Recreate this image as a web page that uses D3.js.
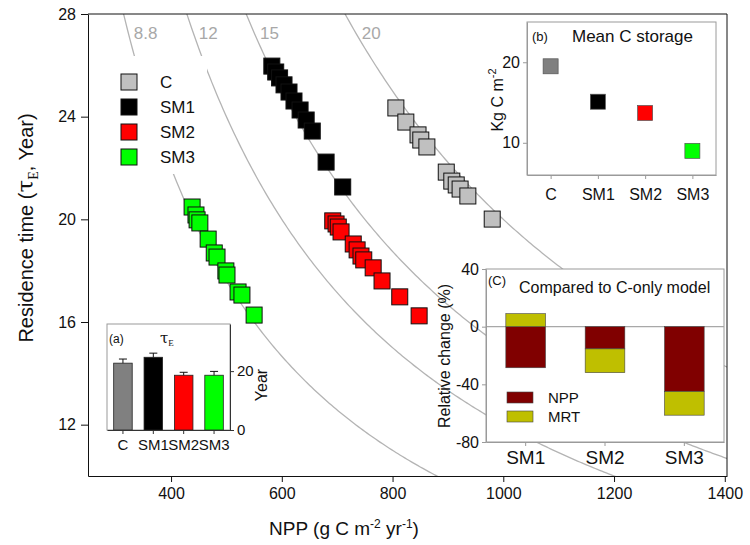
<!doctype html>
<html>
<head>
<script src="https://cdnjs.cloudflare.com/ajax/libs/d3/7.8.5/d3.min.js"></script>
<style>
body { margin: 0; background: #fff; }
text { font-family: Arial, "Liberation Sans", sans-serif; fill: #111; }
</style>
</head>
<body>
<svg id="chart" width="750" height="545"></svg>
<script>
// ---- data ----
var groups = ["C", "SM1", "SM2", "SM3"];
var nppC   = [806, 824, 846, 851, 862, 897, 907, 915, 922, 936, 980];
var tauC   = [24.34, 23.79, 23.29, 23.09, 22.82, 21.84, 21.49, 21.34, 21.18, 20.91, 20.01];
var nppSM1 = [582, 589, 596, 604, 613, 622, 633, 644, 655, 680, 710];
var tauSM1 = [25.97, 25.74, 25.51, 25.24, 24.96, 24.61, 24.26, 23.87, 23.44, 22.23, 21.26];
var nppSM2 = [692, 698, 702, 707, 729, 736, 743, 748, 765, 781, 813, 848];
var tauSM2 = [19.94, 19.82, 19.70, 19.51, 19.04, 18.81, 18.57, 18.42, 18.11, 17.60, 16.98, 16.24];
var nppSM3 = [438, 445, 447, 452, 467, 478, 483, 499, 501, 521, 528, 550];
var tauSM3 = [20.48, 20.17, 19.98, 19.86, 19.23, 18.69, 18.53, 17.99, 17.83, 17.17, 17.05, 16.27];

var isoLevels = [8.8, 12, 15, 20];          // kg C m-2
var isoLabels = ["8.8", "12", "15", "20"];
var xTicks = [400, 600, 800, 1000, 1200, 1400];
var yTicks = [12, 16, 20, 24, 28];

// inset (a) residence time, (b) mean C storage, (c) relative change
var tauMean = [22.7, 24.7, 18.6, 18.6];
var tauErr  = [1.4, 1.4, 1.0, 1.3];
var aTicks  = [0, 20];
var storage = [19.5, 15.1, 13.7, 9.0];
var bTicks  = [10, 20];
var models  = ["SM1", "SM2", "SM3"];
var relNPP  = [-28.5, -15.4, -45.0];
var relMRT  = [9.0, -16.5, -16.4];
var cTicks  = [-80, -40, 0, 40];

var colors = {C: "#c0c0c0", SM1: "#000000", SM2: "#ff0000", SM3: "#00ff00"};
var colorsInset = {C: "#808080", SM1: "#000000", SM2: "#ff0000", SM3: "#00ff00"};
var plain = d => String(d);

var svg = d3.select("#chart");

// ---- main panel ----
var x = d3.scaleLinear().domain([250, 1404]).range([88, 727]);
var y = d3.scaleLinear().domain([10, 28]).range([476, 14]);

svg.append("clipPath").attr("id", "plotclip")
  .append("rect").attr("x", 88).attr("y", 14).attr("width", 639).attr("height", 462);

var isoLine = d3.line().x(d => x(d[0])).y(d => y(d[1]));
isoLevels.forEach(function (lv, i) {
  var pts = d3.range(250, 1410, 4).map(n => [n, lv * 1000 / n]).filter(p => p[1] > 9 && p[1] < 29);
  svg.append("path")
    .attr("d", isoLine(pts))
    .attr("clip-path", "url(#plotclip)")
    .attr("fill", "none").attr("stroke", "#b4b4b4").attr("stroke-width", 1.3);
  svg.append("text")
    .attr("x", x(lv * 1000 / 27.2) + 5).attr("y", 39)
    .style("font-size", "17px").style("fill", "#a8a8a8")
    .text(isoLabels[i]);
});

var series = [
  {key: "C", npp: nppC, tau: tauC},
  {key: "SM1", npp: nppSM1, tau: tauSM1},
  {key: "SM2", npp: nppSM2, tau: tauSM2},
  {key: "SM3", npp: nppSM3, tau: tauSM3}
];
var sq = 16;
series.forEach(function (s) {
  svg.append("g").selectAll("rect")
    .data(s.npp.map((n, i) => [n, s.tau[i]]))
    .enter().append("rect")
    .attr("x", d => x(d[0]) - sq / 2).attr("y", d => y(d[1]) - sq / 2)
    .attr("width", sq).attr("height", sq)
    .attr("fill", colors[s.key]).attr("stroke", "#111").attr("stroke-width", 1);
});

var xAxis = svg.append("g").attr("transform", "translate(0,476)")
  .call(d3.axisBottom(x).tickValues(xTicks).tickFormat(plain).tickSize(6).tickSizeOuter(0).tickPadding(6));
var yAxis = svg.append("g").attr("transform", "translate(88,0)")
  .call(d3.axisLeft(y).tickValues(yTicks).tickFormat(plain).tickSize(7).tickSizeOuter(0).tickPadding(5));
[xAxis, yAxis].forEach(function (g) {
  g.selectAll("text").style("font-size", "16px").style("font-family", "Arial, 'Liberation Sans', sans-serif");
  g.selectAll("line,path").attr("stroke", "#111");
});
svg.append("path").attr("d", "M88,14H727V476").attr("fill", "none").attr("stroke", "#111");

// axis titles
var xt = svg.append("text").attr("x", 344).attr("y", 535).attr("text-anchor", "middle").style("font-size", "19px");
xt.append("tspan").text("NPP (g C m");
xt.append("tspan").attr("dy", -7).style("font-size", "12px").text("-2");
xt.append("tspan").attr("dy", 7).text(" yr");
xt.append("tspan").attr("dy", -7).style("font-size", "12px").text("-1");
xt.append("tspan").attr("dy", 7).text(")");

var yt = svg.append("text").attr("transform", "translate(33,228) rotate(-90)").attr("text-anchor", "middle").style("font-size", "20px");
yt.append("tspan").text("Residence time (");
yt.append("tspan").style("font-family", "'DejaVu Serif', serif").style("font-size", "23px").text("τ");
yt.append("tspan").attr("dy", 5).style("font-family", "'Liberation Serif', serif").style("font-size", "14px").text("E");
yt.append("tspan").attr("dy", -5).text(", Year)");

// legend
svg.append("rect").attr("x", 112).attr("y", 56).attr("width", 95).attr("height", 118).attr("fill", "#fff");
var leg = svg.append("g").selectAll("g").data(groups).enter().append("g")
  .attr("transform", (d, i) => "translate(121," + (74 + i * 25) + ")");
leg.append("rect").attr("width", 16).attr("height", 16).attr("fill", d => colors[d]).attr("stroke", "#111");
leg.append("text").attr("x", 39).attr("y", 14).style("font-size", "17px").text(d => d);

// ---- inset (a) ----
var xa = d3.scaleBand().domain(groups).range([107, 230]).paddingInner(0.39).paddingOuter(0.22);
var ya = d3.scaleLinear().domain([0, 36]).range([430, 324]);
svg.append("rect").attr("x", 107).attr("y", 324).attr("width", 123).attr("height", 106)
  .attr("fill", "#fff").attr("stroke", "#9a9a9a");
svg.append("g").selectAll("rect").data(groups).enter().append("rect")
  .attr("x", d => xa(d)).attr("width", xa.bandwidth())
  .attr("y", (d, i) => ya(tauMean[i])).attr("height", (d, i) => ya(0) - ya(tauMean[i]))
  .attr("fill", d => colorsInset[d]).attr("stroke", "#222").attr("stroke-width", 0.8);
var eb = svg.append("g").selectAll("g").data(groups).enter().append("g");
eb.append("line")
  .attr("x1", d => xa(d) + xa.bandwidth() / 2).attr("x2", d => xa(d) + xa.bandwidth() / 2)
  .attr("y1", (d, i) => ya(tauMean[i])).attr("y2", (d, i) => ya(tauMean[i] + tauErr[i]))
  .attr("stroke", "#111");
eb.append("line")
  .attr("x1", d => xa(d) + xa.bandwidth() / 2 - 4).attr("x2", d => xa(d) + xa.bandwidth() / 2 + 4)
  .attr("y1", (d, i) => ya(tauMean[i] + tauErr[i])).attr("y2", (d, i) => ya(tauMean[i] + tauErr[i]))
  .attr("stroke", "#111");
var aAxR = svg.append("g").attr("transform", "translate(230,0)")
  .call(d3.axisRight(ya).tickValues(aTicks).tickSize(4).tickSizeOuter(0));
var aAxB = svg.append("g").attr("transform", "translate(0,430)")
  .call(d3.axisBottom(xa).tickSize(4).tickSizeOuter(0).tickPadding(5));
[aAxR, aAxB].forEach(function (g) {
  g.selectAll("text").style("font-size", "15px").style("font-family", "Arial, 'Liberation Sans', sans-serif");
  g.selectAll("line,path").attr("stroke", "#333");
});
svg.append("text").attr("x", 109).attr("y", 343).style("font-size", "12px").text("(a)");
var at = svg.append("text").attr("x", 160).attr("y", 343).style("font-size", "15px");
at.append("tspan").style("font-family", "'DejaVu Serif', serif").text("τ");
at.append("tspan").attr("dy", 3).style("font-family", "'Liberation Serif', serif").style("font-size", "9px").text("E");
svg.append("text").attr("transform", "translate(267,385) rotate(-90)").attr("text-anchor", "middle")
  .style("font-size", "16px").text("Year");

// ---- inset (b) ----
var xb = d3.scalePoint().domain(groups).range([527, 716]).padding(0.5);
var yb = d3.scaleLinear().domain([6, 25]).range([175, 22]);
svg.append("rect").attr("x", 527).attr("y", 22).attr("width", 189).attr("height", 153)
  .attr("fill", "#fff").attr("stroke", "#9a9a9a");
svg.append("g").selectAll("rect").data(groups).enter().append("rect")
  .attr("x", d => xb(d) - 7.5).attr("y", (d, i) => yb(storage[i]) - 7.5)
  .attr("width", 15).attr("height", 15)
  .attr("fill", d => colorsInset[d]).attr("stroke", "#555").attr("stroke-width", 0.7);
var bAxL = svg.append("g").attr("transform", "translate(527,0)")
  .call(d3.axisLeft(yb).tickValues(bTicks).tickSize(4).tickSizeOuter(0));
var bAxB = svg.append("g").attr("transform", "translate(0,175)")
  .call(d3.axisBottom(xb).tickSize(4).tickSizeOuter(0).tickPadding(10));
[bAxL, bAxB].forEach(function (g) {
  g.selectAll("text").style("font-size", "16px").style("font-family", "Arial, 'Liberation Sans', sans-serif");
  g.selectAll("line,path").attr("stroke", "#9a9a9a");
});
svg.append("text").attr("x", 532).attr("y", 41).style("font-size", "13px").text("(b)");
svg.append("text").attr("x", 572).attr("y", 42).style("font-size", "17px").text("Mean C storage");
var bt = svg.append("text").attr("transform", "translate(503,100) rotate(-90)").attr("text-anchor", "middle")
  .style("font-size", "16px");
bt.append("tspan").text("Kg C m");
bt.append("tspan").attr("dy", -7).style("font-size", "11px").text("-2");

// ---- inset (c) ----
var xc = d3.scaleBand().domain(models).range([486, 724]).paddingInner(0.5).paddingOuter(0.25);
var yc = d3.scaleLinear().domain([-80, 40]).range([442, 269]);
svg.append("rect").attr("x", 486).attr("y", 269).attr("width", 238).attr("height", 173)
  .attr("fill", "#fff").attr("stroke", "#9a9a9a");
svg.append("line").attr("x1", 486).attr("x2", 724).attr("y1", yc(0)).attr("y2", yc(0))
  .attr("stroke", "#a8a8a8").attr("stroke-width", 1.2);

var table = models.map((m, i) => ({model: m, NPP: relNPP[i], MRT: relMRT[i]}));
var stacked = d3.stack().keys(["NPP", "MRT"]).offset(d3.stackOffsetDiverging)(table);
var cFill = {NPP: "#800000", MRT: "#bfbf00"};
svg.append("g").selectAll("g").data(stacked).enter().append("g")
  .attr("fill", d => cFill[d.key])
  .selectAll("rect").data(d => d).enter().append("rect")
  .attr("x", d => xc(d.data.model)).attr("width", xc.bandwidth())
  .attr("y", d => yc(Math.max(d[0], d[1]))).attr("height", d => Math.abs(yc(d[0]) - yc(d[1])))
  .attr("stroke", "#444").attr("stroke-width", 0.6);

var cAxL = svg.append("g").attr("transform", "translate(486,0)")
  .call(d3.axisLeft(yc).tickValues(cTicks).tickSize(4).tickSizeOuter(0).tickFormat(plain));
var cAxB = svg.append("g").attr("transform", "translate(0,442)")
  .call(d3.axisBottom(xc).tickSize(4).tickSizeOuter(0).tickPadding(5));
cAxL.selectAll("text").style("font-size", "16px");
cAxB.selectAll("text").style("font-size", "19px");
[cAxL, cAxB].forEach(function (g) {
  g.selectAll("text").style("font-family", "Arial, 'Liberation Sans', sans-serif");
  g.selectAll("line,path").attr("stroke", "#9a9a9a");
});
svg.append("text").attr("x", 488).attr("y", 285).style("font-size", "13px").text("(C)");
svg.append("text").attr("x", 519).attr("y", 293).style("font-size", "16px").text("Compared to C-only model");
svg.append("text").attr("transform", "translate(450,356) rotate(-90)").attr("text-anchor", "middle")
  .style("font-size", "16px").text("Relative change (%)");
var cleg = svg.append("g").selectAll("g").data(["NPP", "MRT"]).enter().append("g")
  .attr("transform", (d, i) => "translate(507," + (392 + i * 19) + ")");
cleg.append("rect").attr("width", 26).attr("height", 11).attr("fill", d => cFill[d]).attr("stroke", "#444").attr("stroke-width", 0.6);
cleg.append("text").attr("x", 41).attr("y", 11).style("font-size", "15px").text(d => d);
</script>
</body>
</html>
